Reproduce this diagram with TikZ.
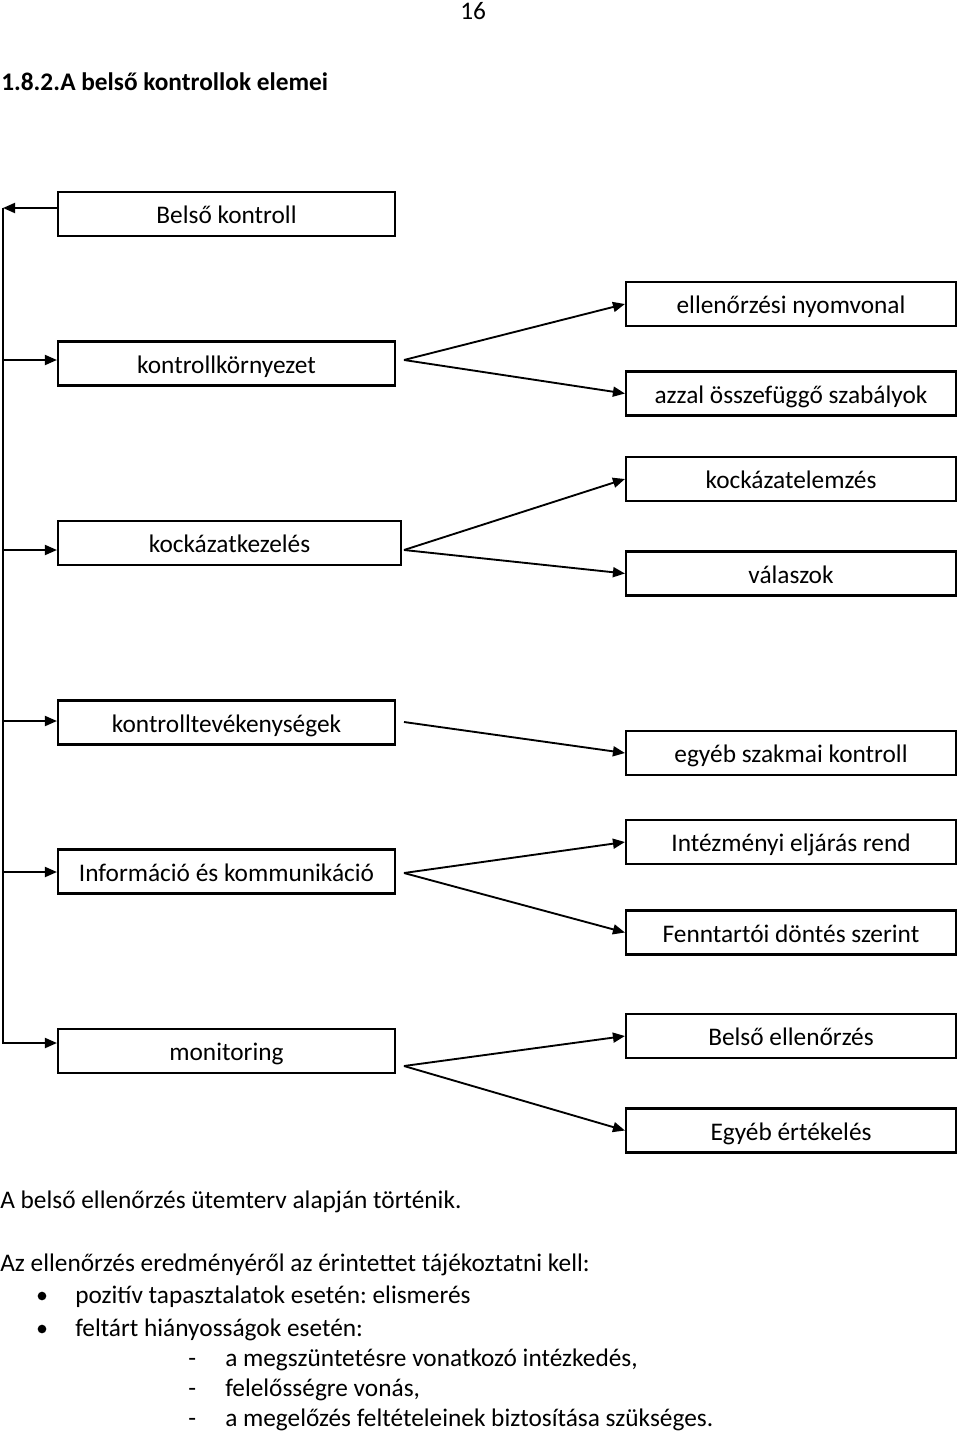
\documentclass[tikz,border=0pt]{standalone}
\usepackage{fontspec}
\setmainfont{Carlito}
\usetikzlibrary{arrows.meta}
\frenchspacing
\begin{document}
\begin{tikzpicture}[x=0.75pt,y=-0.75pt,
  box/.style={draw, line width=1.6pt, inner sep=0pt, minimum height=33pt,
    text height=14.5pt, text depth=0pt, font=\fontsize{19}{23}\selectfont},
  lbox/.style={box, minimum width=252.75pt},
  rbox/.style={box, minimum width=247.5pt},
  arr/.style={line width=1.4pt, -{Triangle[length=9pt,width=7.5pt]}},
  txt/.style={anchor=base west, inner sep=0pt, font=\fontsize{19}{23}\selectfont},
  bul/.style={circle, fill, inner sep=0pt, minimum size=6.5pt}]
\useasboundingbox (0,0) rectangle (960,1434);

% header
\node[txt] (pg) at (460,20) {16};
\node[anchor=base west, inner sep=0pt, font=\bfseries\fontsize{19}{23}\selectfont] (title) at (1,91) {1.8.2.A belső kontrollok elemei};

% left boxes
\node[lbox] (bk) at (226.5,214) {Belső kontroll};
\node[lbox] (kk) at (226.5,363.5) {kontrollkörnyezet};
\node[box, minimum width=257.25pt] (kkez) at (229.5,543) {kockázatkezelés};
\node[lbox] (kt) at (226.5,722.5) {kontrolltevékenységek};
\node[lbox] (ik) at (226.5,871.5) {Információ és kommunikáció};
\node[lbox] (mon) at (226.5,1051) {monitoring};

% right boxes
\node[rbox] (r1) at (791,304) {ellenőrzési nyomvonal};
\node[rbox] (r2) at (791,393.5) {azzal összefüggő szabályok};
\node[rbox] (r3) at (791,479) {kockázatelemzés};
\node[rbox] (r4) at (791,573.5) {válaszok};
\node[rbox] (r5) at (791,753) {egyéb szakmai kontroll};
\node[rbox] (r6) at (791,842) {Intézményi eljárás rend};
\node[rbox] (r7) at (791,932.5) {Fenntartói döntés szerint};
\node[rbox] (r8) at (791,1036) {Belső ellenőrzés};
\node[rbox] (r9) at (791,1130.5) {Egyéb értékelés};

% spine
\coordinate (s1) at (3,208);
\coordinate (s2) at (3,360);
\coordinate (s3) at (3,550);
\coordinate (s4) at (3,721);
\coordinate (s5) at (3,872);
\coordinate (s6) at (3,1043);
\draw[arr] (bk.west |- s1) -- (s1);
\draw[arr] (s1) -- (s6) -- (mon.west |- s6);
\draw[arr] (s2) -- (kk.west |- s2);
\draw[arr] (s3) -- (kkez.west |- s3);
\draw[arr] (s4) -- (kt.west |- s4);
\draw[arr] (s5) -- (ik.west |- s5);

% fans
\coordinate (f1) at (404,360);
\coordinate (f2) at (404,550);
\coordinate (f3) at (404,722);
\coordinate (f4) at (404,873);
\coordinate (f5) at (404,1066);
\draw[arr] (f1) -- (r1.west);
\draw[arr] (f1) -- (r2.west);
\draw[arr] (f2) -- (r3.west);
\draw[arr] (f2) -- (r4.west);
\draw[arr] (f3) -- (r5.west);
\draw[arr] (f4) -- (r6.west);
\draw[arr] (f4) -- (r7.west);
\draw[arr] (f5) -- (r8.west);
\draw[arr] (f5) -- (r9.west);

% bottom text
\node[txt] (t1) at (0,1208) {A belső ellenőrzés ütemterv alapján történik.};
\node[txt] (t2) at (0,1271) {Az ellenőrzés eredményéről az érintettet tájékoztatni kell:};
\node[bul] (b1) at (42,1296) {};
\node[txt] (t3) at (75,1303) {pozitív tapasztalatok esetén: elismerés};
\node[bul] (b2) at (42,1329) {};
\node[txt] (t4) at (75,1336) {feltárt hiányosságok esetén:};
\node[txt] (d1) at (188,1366) {-};
\node[txt] (t5) at (225,1366) {a megszüntetésre vonatkozó intézkedés,};
\node[txt] (d2) at (188,1396) {-};
\node[txt] (t6) at (225,1396) {felelősségre vonás,};
\node[txt] (d3) at (188,1426) {-};
\node[txt] (t7) at (225,1426) {a megelőzés feltételeinek biztosítása szükséges.};
\end{tikzpicture}
\end{document}
